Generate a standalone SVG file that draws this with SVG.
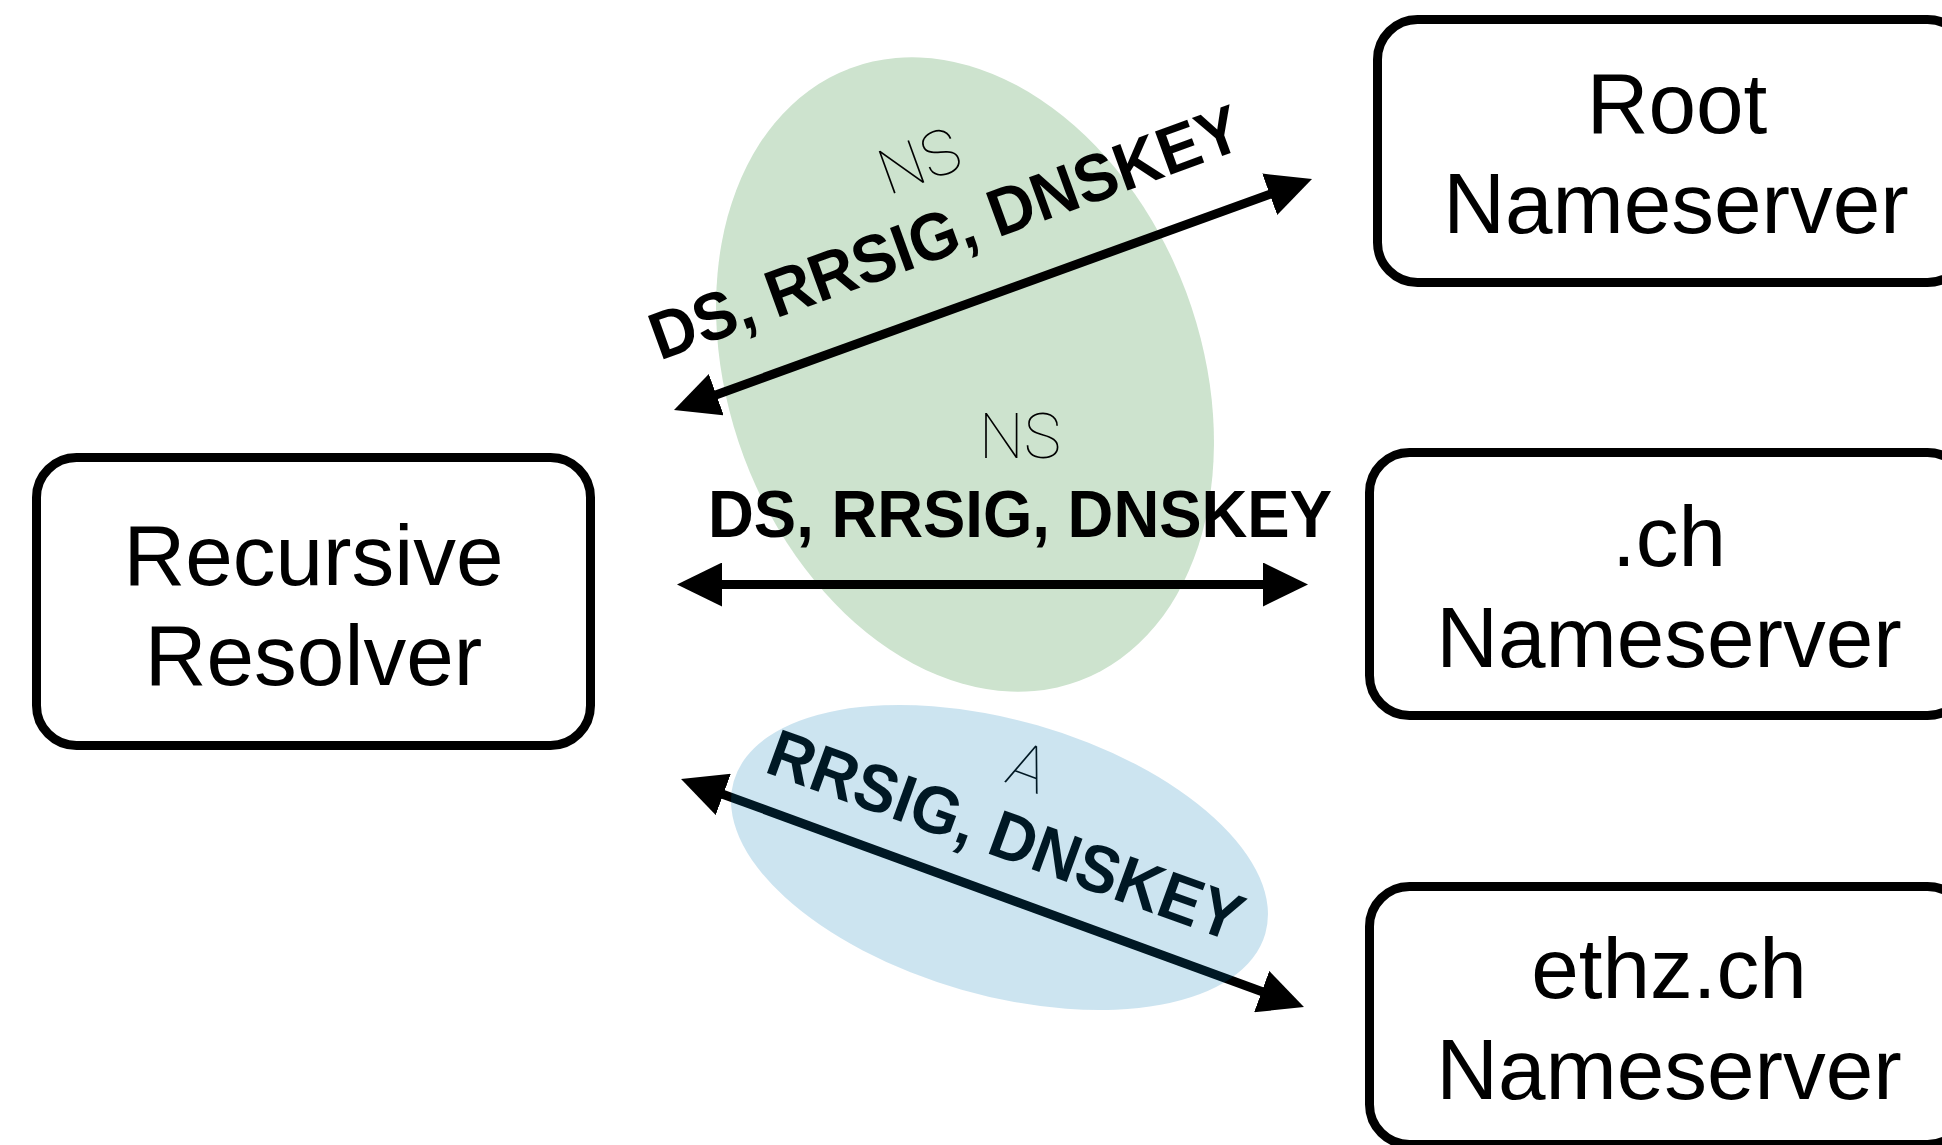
<svg xmlns="http://www.w3.org/2000/svg" width="1942" height="1145" viewBox="0 0 1942 1145">
  <style>
    .box { fill: #ffffff; stroke: #000000; stroke-width: 9; }
    .node-text { font-family: "Liberation Sans", Arial, Helvetica, sans-serif; font-size: 85.5px; fill: #000000; text-anchor: middle; }
    .rr-bold { font-family: "Liberation Sans", Arial, Helvetica, sans-serif; font-weight: bold; font-size: 67px; fill: #000000; text-anchor: middle; }
    .rr-thin { font-family: "Roboto", "Lato", "Inter", sans-serif; font-weight: 100; font-size: 63px; fill: #000000; text-anchor: middle; }
    .link { stroke: #000000; stroke-width: 9; fill: none; marker-start: url(#head); marker-end: url(#head); }
  </style>
  <defs>
    <marker id="head" markerUnits="userSpaceOnUse" markerWidth="45" markerHeight="44" refX="5" refY="22" orient="auto-start-reverse" viewBox="0 0 45 44">
      <path d="M0,0 L45,22 L0,44 Z" fill="#000000"/>
    </marker>
  </defs>

  <rect width="1942" height="1145" fill="#ffffff"/>

  <!-- zone of the root / .ch exchange -->
  <ellipse id="zone-delegation" cx="965" cy="374.5" rx="236" ry="327" fill="#cde3ce" transform="rotate(-20.5 965 374.5)"/>

  <!-- query/response arrows -->
  <g id="connectors">
    <line class="link" x1="711.6" y1="396.4" x2="1274.4" y2="192.6"/>
    <line class="link" x1="717" y1="584.5" x2="1268" y2="584.5"/>
    <line class="link" x1="718.6" y1="792.7" x2="1266.4" y2="993.3"/>
  </g>

  <!-- record types carried on each exchange -->
  <g id="labels">
    <g transform="translate(926.7 181.6) rotate(-20)">
      <text class="rr-thin" x="0" y="0">NS</text>
    </g>
    <g transform="translate(953 254) rotate(-20)">
      <text class="rr-bold" x="0" y="0" textLength="624" lengthAdjust="spacingAndGlyphs">DS, RRSIG, DNSKEY</text>
    </g>
    <text class="rr-thin" x="1020" y="458">NS</text>
    <text class="rr-bold" x="1020" y="537" textLength="624" lengthAdjust="spacingAndGlyphs">DS, RRSIG, DNSKEY</text>
    <g transform="translate(1021 788) rotate(20)">
      <text class="rr-thin" x="0" y="0">A</text>
    </g>
    <g transform="translate(998 857) rotate(20)">
      <text class="rr-bold" x="0" y="0" textLength="500" lengthAdjust="spacingAndGlyphs">RRSIG, DNSKEY</text>
    </g>
  </g>

  <!-- translucent zone over the ethz.ch exchange -->
  <ellipse id="zone-answer" cx="999.5" cy="857.5" rx="276.5" ry="137.5" fill="#0078b4" fill-opacity="0.2" transform="rotate(16 999.5 857.5)"/>

  <g id="resolver">
    <rect class="box" x="36.5" y="457.5" width="554" height="288" rx="40" ry="40"/>
    <text class="node-text" x="313.5" y="585">Recursive</text>
    <text class="node-text" x="313.5" y="685">Resolver</text>
  </g>

  <g id="root-ns">
    <rect class="box" x="1377.5" y="19.5" width="590" height="263" rx="40" ry="40"/>
    <text class="node-text" x="1677" y="133">Root</text>
    <text class="node-text" x="1676" y="233">Nameserver</text>
  </g>

  <g id="ch-ns">
    <rect class="box" x="1369.5" y="452.5" width="598" height="263" rx="40" ry="40"/>
    <text class="node-text" x="1669" y="566">.ch</text>
    <text class="node-text" x="1669" y="667">Nameserver</text>
  </g>

  <g id="ethz-ns">
    <rect class="box" x="1369.5" y="886.5" width="598" height="258" rx="40" ry="40"/>
    <text class="node-text" x="1669" y="998">ethz.ch</text>
    <text class="node-text" x="1669" y="1099">Nameserver</text>
  </g>
</svg>
